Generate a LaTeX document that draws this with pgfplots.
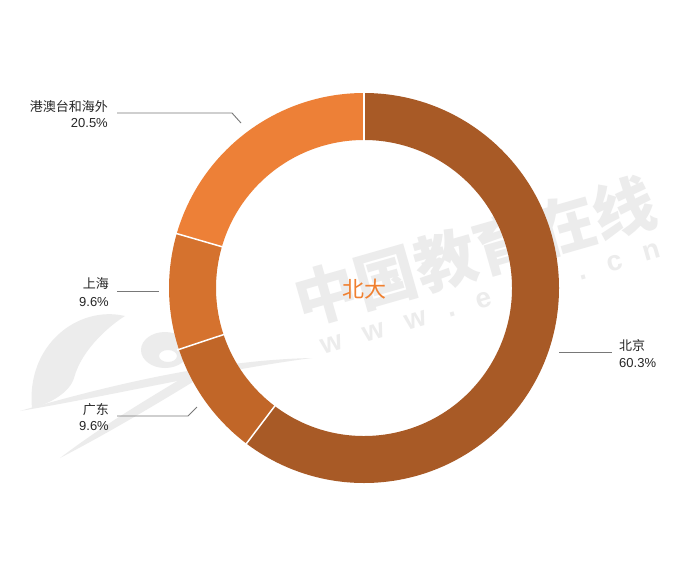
\documentclass[border=0pt]{standalone}
\usepackage{pgfplots}
\usepackage{pgfplotstable}
\pgfplotsset{compat=1.18}
\usepackage{fontspec}
\setmainfont{Liberation Sans}
\newfontfamily\cjk{Noto Sans CJK SC}

\definecolor{cBJ}{RGB}{168,90,38}
\definecolor{cGD}{RGB}{193,102,40}
\definecolor{cSH}{RGB}{213,114,46}
\definecolor{cGA}{RGB}{237,128,55}
\definecolor{cTitle}{RGB}{240,128,48}
\definecolor{wm}{RGB}{236,236,236}
\definecolor{lead}{RGB}{120,120,120}

% share of students by region (percent), clockwise from 12 o'clock
\pgfplotstableread{
region value
北京 60.3
广东 9.6
上海 9.6
港澳台和海外 20.5
}\shares

\pgfplotstablegetelem{0}{value}\of\shares \let\vA\pgfplotsretval
\pgfplotstablegetelem{1}{value}\of\shares \let\vB\pgfplotsretval
\pgfplotstablegetelem{2}{value}\of\shares \let\vC\pgfplotsretval
\pgfplotstablegetelem{3}{value}\of\shares \let\vD\pgfplotsretval
\pgfmathsetmacro\aA{90}
\pgfmathsetmacro\aB{\aA-3.6*\vA}
\pgfmathsetmacro\aC{\aB-3.6*\vB}
\pgfmathsetmacro\aD{\aC-3.6*\vC}
\pgfmathsetmacro\aE{\aD-3.6*\vD}

\newcommand\ringpart[3]{%
  \fill[#1] ([shift={(#2:195pt)}]axis cs:364,288)
    arc[start angle=#2, end angle=#3, radius=195pt]
    -- ([shift={(#3:148pt)}]axis cs:364,288)
    arc[start angle=#3, end angle=#2, radius=148pt] -- cycle;}
\newcommand\cut[1]{%
  \draw[white, line width=1.5pt] ([shift={(#1:146pt)}]axis cs:364,288)
    -- ([shift={(#1:197pt)}]axis cs:364,288);}
\newcommand\gap{\hspace{22pt}}

\begin{document}
\begin{tikzpicture}
\begin{axis}[
    x=1pt, y=1pt,
    xmin=0, xmax=700, ymin=0, ymax=575,
    y dir=reverse,
    hide axis, clip=false,
]
\fill[white] (axis cs:0,0) rectangle (axis cs:700,575);

% watermark
\node[wm, rotate=16, font=\cjk\bfseries\fontsize{62}{64}\selectfont]
  at (axis cs:475,251) {中国教育在线};
\node[wm, rotate=16, font=\bfseries\fontsize{28}{30}\selectfont]
  at (axis cs:490,296) {w\gap w\gap w\gap .\gap e\gap o\gap l\gap .\gap c\gap n};
\fill[wm] (axis cs:32,408) .. controls (axis cs:26,345) and (axis cs:78,305) .. (axis cs:125,316)
  .. controls (axis cs:112,324) and (axis cs:82,348) .. (axis cs:74,378)
  .. controls (axis cs:70,392) and (axis cs:50,404) .. (axis cs:32,408) -- cycle;
\fill[wm] (axis cs:20,411) .. controls (axis cs:120,382) and (axis cs:220,360) .. (axis cs:312,358)
  .. controls (axis cs:220,370) and (axis cs:120,394) .. (axis cs:20,411) -- cycle;
\fill[wm, even odd rule] (axis cs:165,350) ellipse[x radius=24pt, y radius=18pt]
  (axis cs:168,356) ellipse[x radius=9pt, y radius=6pt];
\fill[wm] (axis cs:60,458) .. controls (axis cs:110,420) and (axis cs:160,392) .. (axis cs:192,372)
  -- (axis cs:196,380) .. controls (axis cs:160,402) and (axis cs:110,432) .. (axis cs:60,458) -- cycle;

% ring
\ringpart{cBJ}{\aA}{\aB}
\ringpart{cGD}{\aB}{\aC}
\ringpart{cSH}{\aC}{\aD}
\ringpart{cGA}{\aD}{\aE}
\cut{\aA}\cut{\aB}\cut{\aC}\cut{\aD}

\node[cTitle, font=\cjk\fontsize{22}{24}\selectfont, anchor=base]
  at (axis cs:364.5,297) {北大};

% leader lines
\draw[lead, line width=0.9pt] (axis cs:117,113) -- (axis cs:232,113) -- (axis cs:241,123);
\draw[lead, line width=0.9pt] (axis cs:117,291) -- (axis cs:159,291);
\draw[lead, line width=0.9pt] (axis cs:117,416) -- (axis cs:188,416) -- (axis cs:197,407);
\draw[lead, line width=0.9pt] (axis cs:559,352) -- (axis cs:612,352);

% labels
\begin{scope}[every node/.style={inner sep=0pt, text=black!85, font=\fontsize{13}{15}\selectfont}]
\node[anchor=base east] at (axis cs:108,111) {\cjk 港澳台和海外};
\node[anchor=base east] at (axis cs:108,127.3) {20.5\%};
\node[anchor=base east] at (axis cs:109,288) {\cjk 上海};
\node[anchor=base east] at (axis cs:109,306) {9.6\%};
\node[anchor=base east] at (axis cs:109,414) {\cjk 广东};
\node[anchor=base east] at (axis cs:109,430.5) {9.6\%};
\node[anchor=base west] at (axis cs:619,350.5) {\cjk 北京};
\node[anchor=base west] at (axis cs:619,367) {60.3\%};
\end{scope}
\end{axis}
\end{tikzpicture}
\end{document}
